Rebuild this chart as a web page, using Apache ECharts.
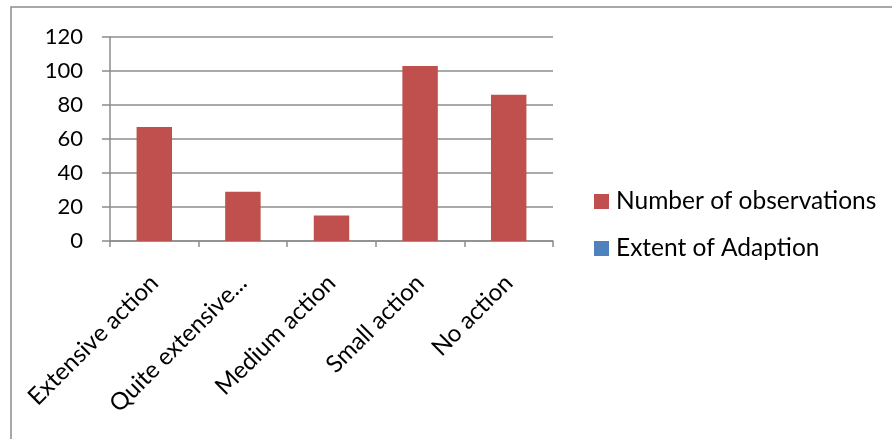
<!DOCTYPE html>
<html>
<head>
<meta charset="utf-8">
<script src="https://cdn.jsdelivr.net/npm/echarts@6/dist/echarts.min.js"></script>
<style>
  html, body { margin: 0; padding: 0; background: #fff; }
  #main { width: 892px; height: 439px; }
</style>
</head>
<body>
<div id="main"></div>
<script>
var categories = ['Extensive action', 'Quite extensive...', 'Medium action', 'Small action', 'No action'];
var observations = [67, 29, 15, 103, 86];
var adaption = [];
var yTicks = [0, 20, 40, 60, 80, 100, 120];

var myChart = echarts.init(document.getElementById('main'));
var font = 'Lato, "Open Sans", sans-serif';

var option = {
    animation: false,
    textStyle: { fontFamily: font },
    graphic: [
        {
            type: 'rect',
            shape: { x: 11, y: 7, width: 900, height: 450 },
            style: { fill: 'none', stroke: '#8c8c8c', lineWidth: 1.5 },
            silent: true
        }
    ],
    grid: { left: 110, top: 37, right: 339, bottom: 198 },
    legend: {
        orient: 'vertical',
        left: 594,
        top: 189,
        padding: 0,
        itemWidth: 15,
        itemHeight: 15,
        itemGap: 22,
        icon: 'rect',
        textStyle: { fontSize: 24.5, lineHeight: 24, color: '#000', fontFamily: font, padding: [0, 0, 0, 2] },
        data: ['Number of observations', 'Extent of Adaption']
    },
    xAxis: {
        type: 'category',
        data: categories,
        axisLine: { lineStyle: { color: '#8c8c8c', width: 1.5 } },
        axisTick: { show: true, length: 6, lineStyle: { color: '#8c8c8c', width: 1.5 } },
        axisLabel: {
            rotate: 45,
            fontSize: 24,
            color: '#000',
            margin: 38,
            interval: 0
        }
    },
    yAxis: {
        type: 'value',
        min: yTicks[0],
        max: yTicks[yTicks.length - 1],
        interval: 20,
        axisLine: { show: true, lineStyle: { color: '#8c8c8c', width: 1.5 } },
        axisTick: { show: true, length: 8, lineStyle: { color: '#8c8c8c', width: 1.5 } },
        splitLine: { lineStyle: { color: '#8c8c8c', width: 1.5 } },
        axisLabel: { fontSize: 22, color: '#000', margin: 27 }
    },
    series: [
        {
            name: 'Number of observations',
            type: 'bar',
            data: observations,
            barWidth: '40%',
            barGap: '0%',
            itemStyle: { color: '#C0504D' }
        },
        {
            name: 'Extent of Adaption',
            type: 'bar',
            data: adaption,
            itemStyle: { color: '#4F81BD' }
        }
    ]
};
myChart.setOption(option);
</script>
</body>
</html>
